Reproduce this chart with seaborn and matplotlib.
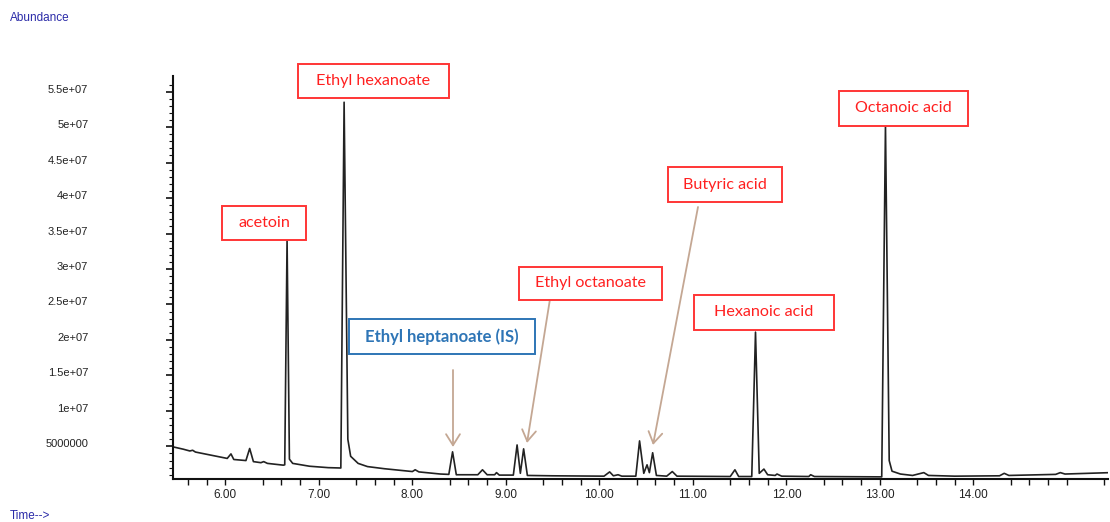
import matplotlib
matplotlib.use("Agg")
import matplotlib.pyplot as plt
from matplotlib.patches import Rectangle, FancyArrowPatch
from matplotlib.transforms import ScaledTranslation
import seaborn as sns
import pandas as pd
import numpy as np

# ---- data (retention time in min, abundance) ----
time_min = [5.44, 5.55, 5.62, 5.65, 5.68, 5.85, 6.02, 6.06, 6.09, 6.22, 6.26, 6.30,
            6.38, 6.41, 6.45, 6.62, 6.635, 6.66, 6.685, 6.72, 6.90, 7.10, 7.235, 7.27,
            7.31, 7.34, 7.42, 7.52, 7.70, 7.85, 8.00, 8.03, 8.07, 8.30, 8.39, 8.43, 8.47,
            8.70, 8.75, 8.80, 8.88, 8.90, 8.93, 9.08, 9.12, 9.155, 9.19, 9.23, 9.50,
            10.05, 10.11, 10.15, 10.20, 10.24, 10.39, 10.43, 10.475, 10.51, 10.535, 10.57, 10.61,
            10.72, 10.78, 10.83, 11.40, 11.45, 11.49, 11.63, 11.67, 11.71, 11.76, 11.80, 11.88,
            11.90, 11.95, 12.24, 12.26, 12.30, 13.02, 13.06, 13.10, 13.13, 13.22, 13.35, 13.47,
            13.52, 13.80, 14.28, 14.33, 14.38, 14.88, 14.93, 14.98, 15.47]
abundance = [4.93e6, 4.60e6, 4.35e6, 4.45e6, 4.20e6, 3.75e6, 3.30e6, 3.94e6, 3.15e6, 3.00e6, 4.70e6, 2.85e6,
             2.70e6, 2.85e6, 2.60e6, 2.35e6, 2.40e6, 34.1e6, 3.20e6, 2.60e6, 2.20e6, 2.00e6, 1.95e6, 53.5e6,
             6.0e6, 3.6e6, 2.6e6, 2.15e6, 1.85e6, 1.65e6, 1.45e6, 1.7e6, 1.4e6, 1.1e6, 1.05e6, 4.23e6, 1.0e6,
             1.0e6, 1.7e6, 1.0e6, 1.0e6, 1.3e6, 0.95e6, 0.95e6, 5.2e6, 1.2e6, 4.65e6, 0.9e6, 0.85e6,
             0.8e6, 1.4e6, 0.85e6, 1.0e6, 0.8e6, 0.8e6, 5.77e6, 1.2e6, 2.4e6, 1.3e6, 4.1e6, 0.9e6,
             0.8e6, 1.45e6, 0.8e6, 0.75e6, 1.7e6, 0.75e6, 0.75e6, 21.1e6, 1.2e6, 1.8e6, 1.0e6, 0.9e6,
             1.1e6, 0.8e6, 0.75e6, 1.0e6, 0.75e6, 0.7e6, 50.3e6, 3.0e6, 1.5e6, 1.1e6, 0.9e6, 1.3e6,
             0.9e6, 0.8e6, 0.85e6, 1.2e6, 0.9e6, 1.05e6, 1.3e6, 1.1e6, 1.3e6]

x_label_values = [6, 7, 8, 9, 10, 11, 12, 13, 14]
x_labels = ["6.00", "7.00", "8.00", "9.00", "10.00", "11.00", "12.00", "13.00", "14.00"]
y_label_values = [5e6, 1e7, 1.5e7, 2e7, 2.5e7, 3e7, 3.5e7, 4e7, 4.5e7, 5e7, 5.5e7]
y_labels = ["5000000", "1e+07", "1.5e+07", "2e+07", "2.5e+07", "3e+07", "3.5e+07",
            "4e+07", "4.5e+07", "5e+07", "5.5e+07"]

compounds = ["acetoin", "Ethyl hexanoate", "Ethyl heptanoate (IS)", "Ethyl octanoate",
             "Butyric acid", "Hexanoic acid", "Octanoic acid"]

# ---- figure ----
sns.set_theme(style="white")
plt.rcParams["font.family"] = ["Liberation Sans", "DejaVu Sans"]

W, H = 1110, 522
fig = plt.figure(figsize=(W / 100, H / 100), dpi=100)
ax = fig.add_axes([173 / W, 1 - 479 / H, (1108 - 173) / W, (479 - 76) / H])

df = pd.DataFrame({"t": time_min, "a": abundance})
sns.lineplot(data=df, x="t", y="a", ax=ax, color="#222222", linewidth=1.2,
             estimator=None, sort=False)

ax.set_xlim(5.44, 15.44)
ax.set_ylim(0.4e6, 57.2e6)
ax.set_xlabel("")
ax.set_ylabel("")

for s in ["top", "right"]:
    ax.spines[s].set_visible(False)
for s in ["left", "bottom"]:
    ax.spines[s].set_color("#111111")
    ax.spines[s].set_linewidth(1.5)

# x ticks: long ticks at x.2, short every 0.2, labels at integers
long_ticks = [v + 0.2 for v in x_label_values] + [15.2]
minor_ticks = list(np.round(np.arange(5.6, 15.41, 0.2), 2))
minor_labels = []
for m in minor_ticks:
    lab = ""
    for v, l in zip(x_label_values, x_labels):
        if abs(m - v) < 1e-6:
            lab = l
    minor_labels.append(lab)
ax.set_xticks(long_ticks)
ax.set_xticklabels([""] * len(long_ticks))
ax.set_xticks(minor_ticks, minor=True)
ax.set_xticklabels(minor_labels, minor=True)
ax.tick_params(axis="x", which="major", direction="out", length=8, width=1.2, color="#111111")
ax.tick_params(axis="x", which="minor", direction="out", length=4, width=1.0, color="#111111",
               labelsize=8.5, labelcolor="#222222", pad=3, bottom=True)

# y ticks
ax.set_yticks(y_label_values)
ax.set_yticklabels(y_labels)
ax.set_yticks(np.arange(1e6, 57e6, 1e6), minor=True)
ax.tick_params(axis="y", which="major", direction="out", length=5, width=1.2, color="#111111",
               labelsize=8, labelcolor="#222222", pad=56, left=True)
ax.tick_params(axis="y", which="minor", direction="out", length=3, width=0.8, color="#111111",
               left=True)
shift_up = ScaledTranslation(0, 3 / 100, fig.dpi_scale_trans)
for lab in ax.get_yticklabels():
    lab.set_transform(lab.get_transform() + shift_up)

# corner texts
fig.text(10 / W, 1 - 18 / H, "Abundance", fontsize=8.5, color="#2B2BA8", va="center", ha="left")
fig.text(10 / W, 1 - 516 / H, "Time-->", fontsize=8.5, color="#2B2BA8", va="center", ha="left")

# label boxes (pixel boxes: x0, y0, x1, y1)
boxes = {
    "acetoin": (222, 206, 306, 240),
    "Ethyl hexanoate": (298, 64, 449, 98),
    "Ethyl heptanoate (IS)": (349, 319, 535, 354),
    "Ethyl octanoate": (519, 267, 662, 300),
    "Butyric acid": (668, 167, 782, 202),
    "Hexanoic acid": (694, 295, 834, 330),
    "Octanoic acid": (839, 91, 968, 126),
}
red = "#FF2020"
blue = "#2E75B6"
for name in compounds:
    x0, y0, x1, y1 = boxes[name]
    is_std = name.endswith("(IS)")
    ec = blue if is_std else "#FF3535"
    fig.add_artist(Rectangle((x0 / W, 1 - y1 / H), (x1 - x0) / W, (y1 - y0) / H,
                             transform=fig.transFigure, facecolor="white",
                             edgecolor=ec, linewidth=1.4, zorder=5))
    fig.text((x0 + x1) / 2 / W, 1 - (y0 + y1) / 2 / H, name,
             fontsize=12 if is_std else 11.6, color=blue if is_std else red,
             fontweight="bold" if is_std else "normal",
             family=["Lato", "DejaVu Sans"], ha="center", va="center", zorder=6)

# arrows (pixel start -> end)
arrow_color = "#C4A793"
arrows = [((453, 370), (453, 447)), ((550, 299), (527, 443)), ((698, 207), (653, 445))]
for (sx, sy), (ex, ey) in arrows:
    fig.add_artist(FancyArrowPatch(
        (sx / W, 1 - sy / H), (ex / W, 1 - ey / H), transform=fig.transFigure,
        arrowstyle="->,head_length=8,head_width=5", color=arrow_color, linewidth=1.3,
        shrinkA=0, shrinkB=0, zorder=4))

fig.savefig("out.png", dpi=100)
